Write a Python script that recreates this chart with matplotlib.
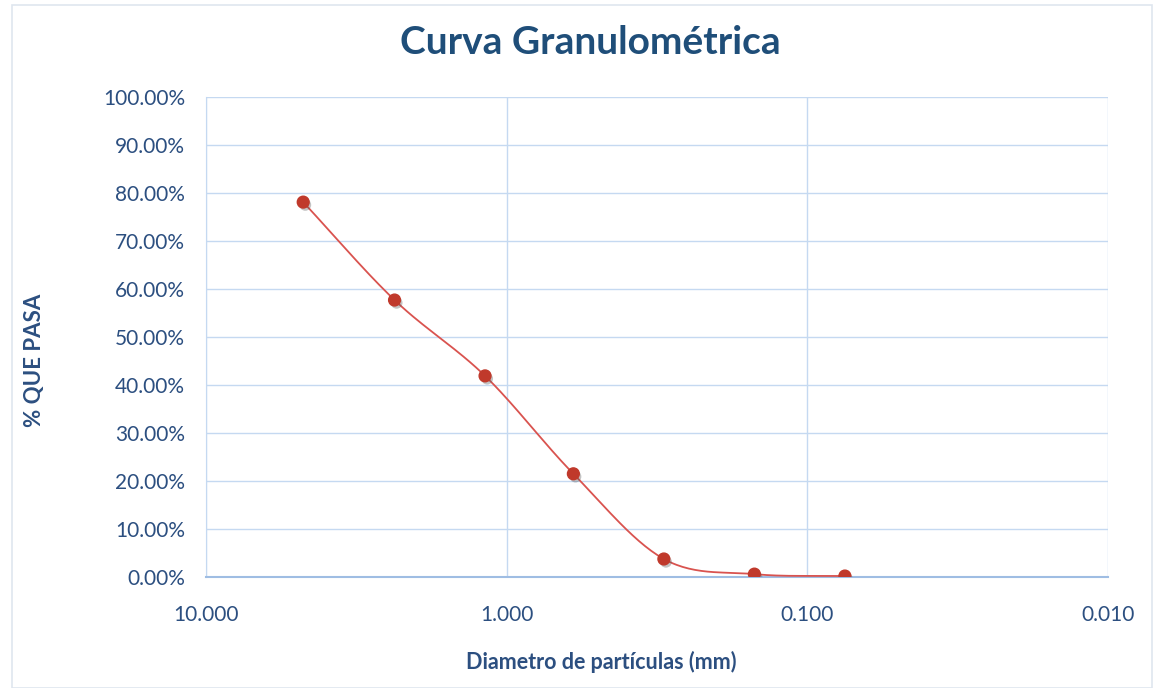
import numpy as np
import matplotlib
matplotlib.use("Agg")
import matplotlib.pyplot as plt
import matplotlib.patheffects as pe
from matplotlib.ticker import FuncFormatter, FixedLocator, NullLocator

plt.rcParams["font.family"] = ["Lato", "DejaVu Sans"]

# sieve openings (mm) and cumulative % passing
diametro = [4.75, 2.36, 1.18, 0.60, 0.30, 0.15, 0.075]
pasa = [0.781, 0.577, 0.419, 0.215, 0.0375, 0.006, 0.002]

TXT = "#2c4f80"
GRID = "#c5d9f1"
RED = "#c0392b"


def smooth(xs, ys, n=30):
    # catmull-rom through the points in (log x, y) space, like excel's smoothed line
    lx = np.log10(xs)
    ys = np.asarray(ys, dtype=float)
    px = np.concatenate([[2 * lx[0] - lx[1]], lx, [2 * lx[-1] - lx[-2]]])
    py = np.concatenate([[2 * ys[0] - ys[1]], ys, [2 * ys[-1] - ys[-2]]])
    out_x, out_y = [], []
    t = np.linspace(0, 1, n)
    for i in range(1, len(px) - 2):
        for p, out in ((px, out_x), (py, out_y)):
            p0, p1, p2, p3 = p[i - 1], p[i], p[i + 1], p[i + 2]
            out.extend(0.5 * (2 * p1 + (-p0 + p2) * t
                              + (2 * p0 - 5 * p1 + 4 * p2 - p3) * t ** 2
                              + (-p0 + 3 * p1 - 3 * p2 + p3) * t ** 3))
    return 10 ** np.array(out_x), np.array(out_y)


fig = plt.figure(figsize=(11.64, 6.88), dpi=100)
fig.patches.append(plt.Rectangle((12 / 1164, 0.0), 1 - 24 / 1164, 0.993,
                                 transform=fig.transFigure, fill=False,
                                 edgecolor="#dfe6ef", linewidth=1.2))
ax = fig.add_axes([206 / 1164, 1 - 577 / 688, 902 / 1164, 480 / 688])

sx, sy = smooth(diametro, pasa)
ax.plot(sx, sy, color="#d9534f", linewidth=1.3, zorder=3)
ax.plot(diametro, pasa, linestyle="none", marker="o", markersize=8.5,
        color=RED, zorder=4,
        path_effects=[pe.SimplePatchShadow(offset=(1.5, -2), shadow_rgbFace="#555555", alpha=0.35),
                      pe.Normal()])

ax.set_xscale("log")
ax.set_xlim(10, 0.01)
ax.set_ylim(0, 1.0)
ax.xaxis.set_major_locator(FixedLocator([10, 1, 0.1, 0.01]))
ax.xaxis.set_minor_locator(NullLocator())
ax.xaxis.set_major_formatter(FuncFormatter(lambda v, _: f"{v:.3f}"))
ax.set_yticks(np.arange(0, 1.01, 0.1))
ax.yaxis.set_major_formatter(FuncFormatter(lambda v, _: f"{v * 100:.2f}%"))

ax.grid(True, color=GRID, linewidth=1.0)
ax.set_axisbelow(True)
for s in ("top", "right"):
    ax.spines[s].set_visible(False)
ax.spines["left"].set_color(GRID)
ax.spines["bottom"].set_color("#9fbde3")
ax.spines["bottom"].set_linewidth(1.5)
ax.tick_params(length=0, labelsize=15, labelcolor=TXT)
ax.tick_params(axis="x", pad=20)
ax.tick_params(axis="y", pad=15)

fig.text(601 / 1164, 1 - 662 / 688, "Diametro de partículas (mm)", ha="center", va="center",
         fontsize=15.5, fontweight="bold", color=TXT)
fig.text(35 / 1164, 1 - 360 / 688, "% QUE PASA", ha="center", va="center", rotation=90,
         fontsize=16, fontweight="bold", color=TXT)
fig.text(590 / 1164, 1 - 42 / 688, "Curva Granulométrica", ha="center", va="center",
         fontsize=28, fontweight="bold", color="#1f4e79")

fig.savefig("out.png", dpi=100, facecolor="white")
